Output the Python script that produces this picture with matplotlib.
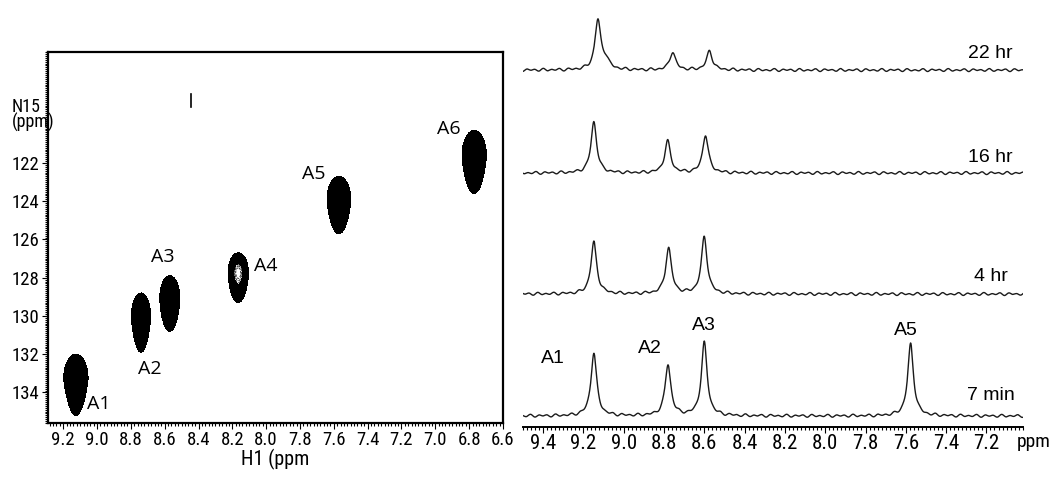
import numpy as np
import matplotlib
matplotlib.use("Agg")
import matplotlib.pyplot as plt
from matplotlib.ticker import MultipleLocator
from matplotlib import font_manager
from matplotlib.font_manager import FontProperties

# pick a condensed sans for tick labels, if one is installed
cond_file = None
for key in ["LiberationSansNarrow-Regular", "RobotoCondensed-Regular", "OpenSansCondensed",
            "OpenSans_Condensed-Regular", "DejaVuSansCondensed.ttf"]:
    for f in font_manager.fontManager.ttflist:
        if key in f.fname:
            cond_file = f.fname
            break
    if cond_file:
        break


def tfont(size):
    if cond_file:
        return FontProperties(fname=cond_file, size=size)
    return FontProperties(family="DejaVu Sans", stretch="condensed", size=size)


# 2D HSQC cross peaks: H1 ppm, N15 extent (top / bottom) and half width in H1
peak_labels = ["A1", "A2", "A3", "A4", "A5", "A6"]
peak_h1 = [9.125, 8.74, 8.57, 8.165, 7.57, 6.77]
peak_top = [132.0, 128.8, 127.9, 126.7, 122.7, 120.3]
peak_bot = [135.2, 131.9, 130.8, 129.3, 125.7, 123.6]
peak_hw = [0.072, 0.057, 0.059, 0.06, 0.07, 0.072]
peak_tail = [1.2, 1.4, 1.7, 1.7, 1.5, 1.4]  # lower-end sharpness (smaller = pointier)
label_h1 = [8.99, 8.685, 8.61, 8.0, 7.72, 6.92]
label_n15 = [134.6, 132.8, 126.9, 127.4, 122.6, 120.2]

# 1D spectra: time, baseline offset, peak positions / heights
times = ["22 hr", "16 hr", "4 hr", "7 min"]
offsets = [357, 254, 133, 11]
time_lbl_dy = [17, 16, 18, 20]
spec_pos = [[9.128, 9.09, 8.757, 8.574],
            [9.148, 8.782, 8.594],
            [9.148, 8.777, 8.600],
            [9.148, 8.780, 8.600, 7.576]]
spec_amp = [[49, 9, 18, 19],
            [51, 32, 38],
            [52, 46, 57],
            [63, 51, 73, 72]]
spec_lbl = ["A1", "A2", "A3", "A5"]
spec_lbl_x = [9.35, 8.87, 8.6, 7.6]
spec_lbl_y = [69, 79, 102, 97]

fig = plt.figure(figsize=(10.5, 4.84), dpi=100)

# ---------- left: 2D contour map ----------
ax = fig.add_axes([0.0457, 0.126, 0.4333, 0.7665])
xs = np.linspace(6.6, 9.3, 1000)
ys = np.linspace(116, 136, 800)
X, Y = np.meshgrid(xs, ys)
for i in range(len(peak_h1)):
    yc = peak_top[i] + 0.4 * (peak_bot[i] - peak_top[i])
    b_up = yc - peak_top[i]
    b_dn = peak_bot[i] - yc
    dx = np.abs(X - peak_h1[i]) / peak_hw[i]
    up = Y < yc
    dy = np.where(up, (yc - Y) / b_up, (Y - yc) / b_dn)
    F = dx ** 2 + np.where(up, dy ** 2, dy ** peak_tail[i])
    Z = -F
    if peak_labels[i] == "A4":
        ax.contourf(X, Y, Z, levels=[-1, -0.2], colors="black")
        ax.contour(X, Y, Z, levels=[-0.16, -0.11, -0.06], colors="black", linewidths=0.5)
    else:
        ax.contourf(X, Y, Z, levels=[-1, 0.1], colors="black")
    ax.text(label_h1[i], label_n15[i], peak_labels[i], fontsize=14, family="Open Sans",
            ha="center", va="center")
# small artefact near 8.44 / 118.7
ax.plot([8.443, 8.443], [118.4, 119.1], color="black", lw=1.2)

ax.set_xlim(9.29, 6.6)
ax.set_ylim(135.6, 116.2)
xt = np.arange(9.2, 6.59, -0.2)
ax.set_xticks(xt)
ax.set_xticklabels([f"{v:.1f}" for v in xt], fontproperties=tfont(13.5))
yt = np.arange(122, 135, 2)
ax.set_yticks(yt)
ax.set_yticklabels([str(v) for v in yt], fontproperties=tfont(13.5))
ax.xaxis.set_minor_locator(MultipleLocator(0.02))
ax.yaxis.set_minor_locator(MultipleLocator(0.1))
ax.tick_params(which="both", direction="out", width=0.8)
ax.tick_params(which="major", length=4, pad=2)
ax.tick_params(which="minor", length=2.5)
for s in ax.spines.values():
    s.set_linewidth(1.6)
ax.set_xlabel("H1 (ppm", fontproperties=tfont(14.5), labelpad=0)
fig.text(0.011, 0.762, "N15\n(ppm)", fontproperties=tfont(13), ha="left", va="center",
         linespacing=0.75)

# ---------- right: stacked 1D spectra ----------
ax2 = fig.add_axes([0.498, 0.1178, 0.476, 0.882])
ppm = np.linspace(7.0, 9.5, 3000)
for k in range(len(times)):
    y = np.full_like(ppm, float(offsets[k]))
    for p, a in zip(spec_pos[k], spec_amp[k]):
        w = 0.017 if a > 12 else 0.022
        y += a / (1 + ((ppm - p) / w) ** 2)
    # baseline ripple (texture only)
    y += 0.9 * np.sin(2 * np.pi * ppm / 0.041 + k) + 0.6 * np.sin(2 * np.pi * ppm / 0.067 + 2 * k)
    ax2.plot(ppm, y, color="#1a1a1a", lw=1.0)
    ax2.text(7.18, offsets[k] + time_lbl_dy[k], times[k], fontsize=14, family="Liberation Sans",
             ha="center", va="center")
for t, xx, yy in zip(spec_lbl, spec_lbl_x, spec_lbl_y):
    ax2.text(xx, yy, t, fontsize=14, family="Liberation Sans", ha="center", va="center")

ax2.set_xlim(9.5, 7.02)
ax2.set_ylim(0, 427)
xt2 = np.arange(9.4, 7.19, -0.2)
ax2.set_xticks(xt2)
ax2.set_xticklabels([f"{v:.1f}" for v in xt2], fontproperties=tfont(15))
ax2.xaxis.set_minor_locator(MultipleLocator(0.02))
ax2.tick_params(which="both", direction="out", width=0.8)
ax2.tick_params(which="major", length=4, pad=1)
ax2.tick_params(which="minor", length=2.5)
ax2.set_yticks([])
for side in ["left", "right", "top"]:
    ax2.spines[side].set_visible(False)
ax2.spines["bottom"].set_linewidth(1.4)
fig.text(0.968, 0.087, "ppm", fontproperties=tfont(14), ha="left", va="center")

fig.savefig("out.png", dpi=100)
